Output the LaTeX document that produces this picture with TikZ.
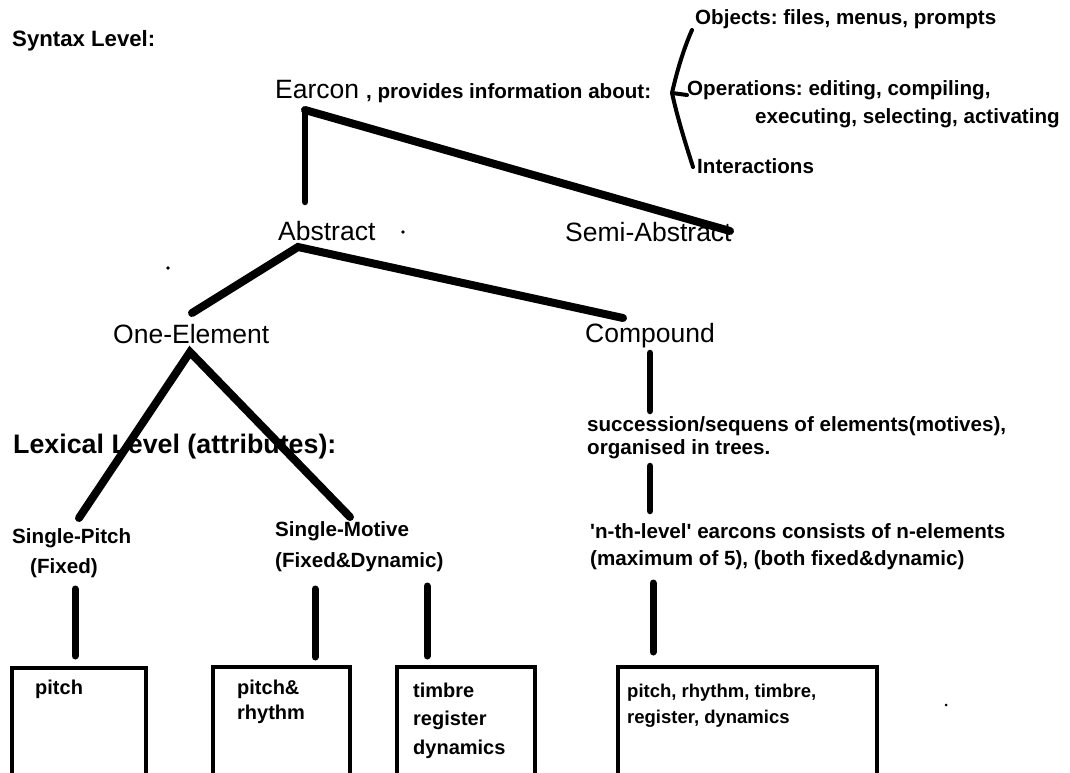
\documentclass[tikz,border=0pt]{standalone}
\usepackage{fontspec}
\setmainfont{Liberation Sans}
\newfontfamily\plainfont{Liberation Sans}
\frenchspacing
\begin{document}
\begin{tikzpicture}[x=1pt,y=-1pt,
  lbl/.style={inner sep=0pt,anchor=base west},
  big/.style={lbl,font=\fontsize{26.5}{30}\selectfont},
  sml/.style={lbl,font=\bfseries\fontsize{20.6}{24}\selectfont},
  boxt/.style={lbl,font=\bfseries\fontsize{20}{24}\selectfont},
  boxtb/.style={lbl,font=\bfseries\fontsize{18.5}{22}\selectfont},
  head/.style={lbl,font=\bfseries\fontsize{22.2}{26}\selectfont},
  headb/.style={lbl,font=\bfseries\fontsize{26.8}{30}\selectfont},
  thick tree/.style={line width=8pt,line cap=round},
  stem/.style={line width=6.5pt,line cap=round},
  boxline/.style={line width=4pt},
  brace/.style={line width=4pt,line cap=round,line join=round}]
\useasboundingbox (0,0) rectangle (1070,773);
\fill[white] (0,0) rectangle (1070,773);

% headers
\node[head] (syn) at (12,47) {Syntax Level:};
\node[headb] (lex) at (13,453) {Lexical Level (attributes):};

% top
\node[big] (earcon) at (275,99) {Earcon};
\node[sml] (prov) at (366,99) {, provides information about:};
\node[sml] (obj) at (695,25) {Objects: files, menus, prompts};
\node[sml] (oper) at (687,96) {Operations: editing, compiling,};
\node[sml] (exec) at (755,124) {executing, selecting, activating};
\node[sml] (inter) at (697,173) {Interactions};

% bracket
\coordinate (brtop) at (692,30);
\coordinate (brtip) at (672,93);
\coordinate (brbot) at (693,167);
\coordinate (brtick) at (687,95);
\draw[brace] (brtop) .. controls (683,50) and (676,75) .. (brtip)
  .. controls (678,120) and (686,145) .. (brbot);
\draw[brace] (brtip) -- (brtick);

% level 1
\node[big] (abs) at (278,240) {Abstract};
\node[big] (semi) at (565,241) {Semi-Abstract};
\coordinate (eA) at (305,110);
\coordinate (eAb) at (305,202);
\coordinate (eS) at (730,231);
\draw[stem] (eA) -- (eAb);
\draw[thick tree] (eA) -- (eS);

% level 2
\node[big] (one) at (113,343) {One-Element};
\node[big] (comp) at (585,342) {Compound};
\coordinate (aJ) at (298,247);
\coordinate (aL) at (192,313);
\coordinate (aR) at (623,318);
\draw[thick tree] (aL) -- (aJ) -- (aR);

% level 3 left
\node[sml] (sp1) at (12,543) {Single-Pitch};
\node[sml] (sp2) at (30,573) {(Fixed)};
\node[sml] (sm1) at (275,536) {Single-Motive};
\node[sml] (sm2) at (275,567) {(Fixed\&Dynamic)};
\coordinate (oJ) at (190,352);
\coordinate (oL) at (79,518);
\coordinate (oR) at (350,517);
\draw[thick tree] (oL) -- (oJ) -- (oR);

% compound chain
\node[sml] (suc1) at (587,431) {succession/sequens of elements(motives),};
\node[sml] (suc2) at (587,454) {organised in trees.};
\node[sml,font=\plainfont\bfseries\fontsize{20.6}{24}\selectfont] (nth1) at (590,538) {'n-th-level' earcons consists of n-elements};
\node[sml] (nth2) at (590,565) {(maximum of 5), (both fixed\&dynamic)};
\coordinate (c1a) at (650,353);
\coordinate (c1b) at (650,411);
\coordinate (c2a) at (650,466);
\coordinate (c2b) at (650,511);
\coordinate (c3a) at (653,583);
\coordinate (c3b) at (653,652);
\draw[stem] (c1a) -- (c1b);
\draw[stem] (c2a) -- (c2b);
\draw[stem,line width=7pt] (c3a) -- (c3b);

% stems to boxes
\coordinate (s1a) at (75,589);
\coordinate (s1b) at (75,656);
\coordinate (s2a) at (315,589);
\coordinate (s2b) at (315,657);
\coordinate (s3a) at (427,586);
\coordinate (s3b) at (427,656);
\draw[stem,line width=7pt] (s1a) -- (s1b);
\draw[stem,line width=7pt] (s2a) -- (s2b);
\draw[stem,line width=7pt] (s3a) -- (s3b);

% boxes (open at bottom, cut off)
\draw[boxline] (12,780) -- (12,668) -- (146,668) -- (146,780);
\draw[boxline] (213,780) -- (213,667) -- (350,667) -- (350,780);
\draw[boxline] (397,780) -- (397,667) -- (535,667) -- (535,780);
\draw[boxline] (618,780) -- (618,667) -- (877,667) -- (877,780);

\node[boxt] (b1) at (35,694) {pitch};
\node[boxt] (b2a) at (237,694) {pitch\&};
\node[boxt] (b2b) at (237,719) {rhythm};
\node[boxt] (b3a) at (413,697) {timbre};
\node[boxt] (b3b) at (413,725) {register};
\node[boxt] (b3c) at (413,754) {dynamics};
\node[boxtb] (b4a) at (627,697) {pitch, rhythm, timbre,};
\node[boxtb] (b4b) at (627,723) {register, dynamics};

% stray dots
\fill (168,268) circle (1.8);
\fill (403,232) circle (1.8);
\fill (946,705) circle (1.5);
\end{tikzpicture}
\end{document}
